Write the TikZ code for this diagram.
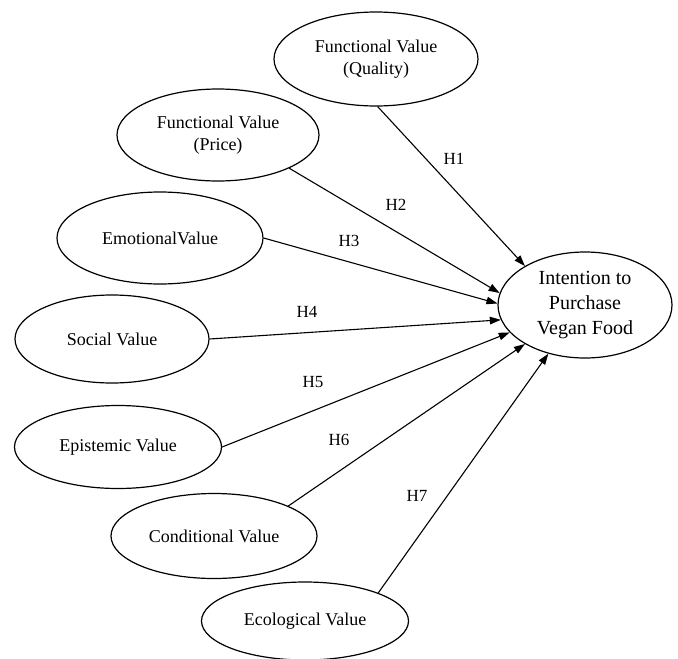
\documentclass[tikz,border=0pt]{standalone}
\usepackage{fontspec}
\setmainfont{Liberation Serif}
\usetikzlibrary{shapes.geometric,arrows.meta}
\begin{document}
\begin{tikzpicture}[x=1pt,y=-1pt,
  val/.style={ellipse, draw, line width=1.2pt, inner sep=0pt, align=center,
    font=\fontsize{18}{21.6}\selectfont},
  arr/.style={-{Triangle[length=11pt,width=7.5pt]}, line width=1.1pt},
  hyp/.style={font=\fontsize{17}{20}\selectfont, inner sep=0pt}]
\useasboundingbox (0,0) rectangle (678,659);
\node[val, minimum width=204pt, minimum height=94pt] (q) at (376,59) {Functional Value\\(Quality)};
\node[val, minimum width=202pt, minimum height=92pt] (p) at (218,135) {Functional Value\\(Price)};
\node[val, minimum width=206pt, minimum height=92pt] (em) at (160,238) {EmotionalValue};
\node[val, minimum width=194pt, minimum height=88pt] (so) at (112,339) {Social Value};
\node[val, minimum width=207pt, minimum height=83pt] (ep) at (118,447) {Epistemic Value};
\node[val, minimum width=206pt, minimum height=85pt] (co) at (214,536) {Conditional Value};
\node[val, minimum width=207pt, minimum height=78pt] (ec) at (305,621) {Ecological Value};
\node[val, minimum width=174pt, minimum height=106pt, font=\fontsize{20}{25}\selectfont] (it) at (585,305) {Intention to\\Purchase\\Vegan Food};
\draw[arr] (q.272) -- (it.147);
\draw[arr] (p.335) -- (it.172);
\draw[arr] (em.0) -- (it.179);
\draw[arr] (so.0) -- (it.190);
\draw[arr] (ep.0) -- (it.200);
\draw[arr] (co.22) -- (it.213);
\draw[arr] (ec.21) -- (it.233);
\node[hyp] (h1) at (454,159) {H1};
\node[hyp] (h2) at (396,205) {H2};
\node[hyp] (h3) at (349,241) {H3};
\node[hyp] (h4) at (307,312) {H4};
\node[hyp] (h5) at (313,382) {H5};
\node[hyp] (h6) at (339,440) {H6};
\node[hyp] (h7) at (417,496) {H7};
\end{tikzpicture}
\end{document}
